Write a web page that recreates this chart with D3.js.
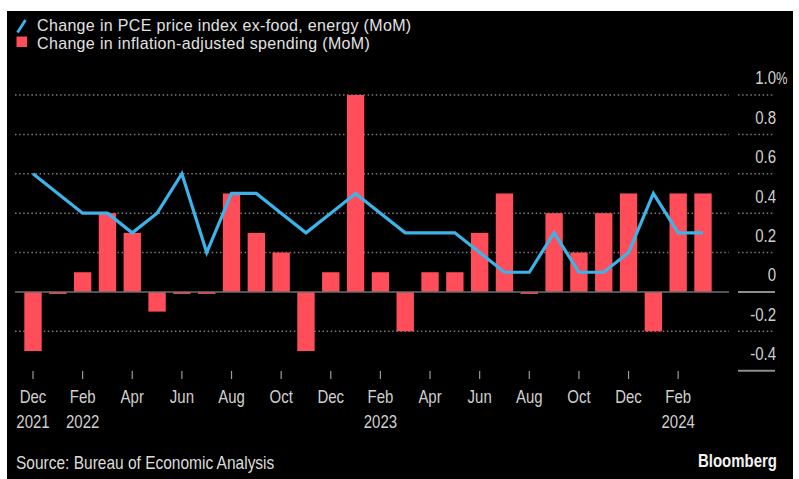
<!DOCTYPE html>
<html>
<head>
<meta charset="utf-8">
<script src="https://cdn.jsdelivr.net/npm/d3@7"></script>
<style>
body { margin: 0; background: #fff; }
svg { display: block; }
</style>
</head>
<body>
<div id="chart"></div>
<script>
// data
const months = ['2021-12','2022-01','2022-02','2022-03','2022-04','2022-05','2022-06','2022-07','2022-08','2022-09','2022-10','2022-11',
  '2022-12','2023-01','2023-02','2023-03','2023-04','2023-05','2023-06','2023-07','2023-08','2023-09','2023-10','2023-11',
  '2023-12','2024-01','2024-02','2024-03']
const spending = [-0.3,-0.01,0.1,0.4,0.3,-0.1,-0.01,-0.01,0.5,0.3,0.2,-0.3,0.1,1.0,0.1,-0.2,0.1,0.1,0.3,0.5,-0.01,0.4,0.2,0.4,0.5,-0.2,0.5,0.5]
const pce = [0.6,0.5,0.4,0.4,0.3,0.4,0.6,0.2,0.5,0.5,0.4,0.3,0.4,0.5,0.4,0.3,0.3,0.3,0.2,0.1,0.1,0.3,0.1,0.1,0.2,0.5,0.3,0.3]
const yTicks = [-0.4,-0.2,0,0.2,0.4,0.6,0.8,1.0]
const monthNames = ['Jan','Feb','Mar','Apr','May','Jun','Jul','Aug','Sep','Oct','Nov','Dec']
const legendItems = ['Change in PCE price index ex-food, energy (MoM)', 'Change in inflation-adjusted spending (MoM)']

const W = 799, H = 479
const RED = '#ff4d5a', BLUE = '#3cb4ea'
const FONT = '"Liberation Sans", Arial, sans-serif'
const STRETCH = 1.2 // reference text is a bit tall

let svg = d3.select('#chart').append('svg')
  .attr('width', W)
  .attr('height', H)

// black panel
svg.append('rect')
  .attr('x', 7).attr('y', 11)
  .attr('width', 786).attr('height', H - 11)
  .attr('fill', '#000')

// helper for stretched text
let label = (g, x, cy, txt, size, anchor, color, weight, stretch) => {
  let s = stretch || STRETCH
  return g.append('text')
    .attr('transform', `translate(${x},${cy + size * 0.716 * s / 2}) scale(1,${s})`)
    .attr('text-anchor', anchor || 'start')
    .attr('fill', color || '#d4d4d4')
    .attr('font-family', FONT)
    .attr('font-size', size)
    .attr('font-weight', weight || 'normal')
    .text(txt)
}

// scales
let x = d3.scaleBand()
  .domain(months)
  .range([20.6, 715.4])
  .paddingInner(0.3)
  .paddingOuter(0.15)
let y = d3.scaleLinear()
  .domain([-0.4, 1.0])
  .range([370.7, 95])
let xc = d => x(d) + x.bandwidth() / 2

// gridlines in plot
let grid = svg.append('g')
grid.selectAll('line')
  .data(yTicks.filter(t => t !== -0.4 && t !== 0))
  .join('line')
  .attr('x1', 15).attr('x2', 729)
  .attr('y1', d => y(d)).attr('y2', d => y(d))
  .attr('stroke', '#7a7a7a')
  .attr('stroke-width', 1.5)
  .attr('stroke-dasharray', '1.5,2.6')

// short lines under the right labels
svg.append('g').selectAll('line')
  .data(yTicks)
  .join('line')
  .attr('x1', 738).attr('x2', 775)
  .attr('y1', d => y(d)).attr('y2', d => y(d))
  .attr('stroke', d => (d === 0 || d === -0.4) ? '#8c8c8c' : '#7a7a7a')
  .attr('stroke-width', d => (d === 0 || d === -0.4) ? 2 : 1.5)
  .attr('stroke-dasharray', d => (d === 0 || d === -0.4) ? null : '1.5,2.6')

// y labels
let yLab = svg.append('g')
yTicks.forEach(t => {
  let txt = t === 0 ? '0' : d3.format('.1f')(t).replace('−', '-')
  label(yLab, 776, y(t) - 17, txt, 15, 'end', '#d0d0d0')
  if (t === 1.0) label(yLab, 776, y(t) - 17, '%', 13, 'start', '#d0d0d0')
})

// bars
svg.append('g').selectAll('rect')
  .data(months)
  .join('rect')
  .attr('x', d => x(d))
  .attr('width', x.bandwidth())
  .attr('y', (d, i) => y(Math.max(0, spending[i])))
  .attr('height', (d, i) => Math.abs(y(spending[i]) - y(0)))
  .attr('fill', RED)

// zero line
svg.append('line')
  .attr('x1', 15).attr('x2', 729)
  .attr('y1', y(0)).attr('y2', y(0))
  .attr('stroke', '#6e6e6e')
  .attr('stroke-width', 1.5)

// pce line
let line = d3.line()
  .x((d, i) => xc(months[i]))
  .y(d => y(d))
svg.append('path')
  .datum(pce)
  .attr('d', line)
  .attr('fill', 'none')
  .attr('stroke', BLUE)
  .attr('stroke-width', 3.2)
  .attr('stroke-linejoin', 'miter')

// x axis ticks every other month
let tickMonths = months.filter((d, i) => i % 2 === 0 && i < 27)
let xAxis = d3.axisBottom(x)
  .tickValues(tickMonths)
  .tickSize(8)
  .tickFormat('')
let gX = svg.append('g')
  .attr('transform', 'translate(0,371)')
  .call(xAxis)
gX.select('.domain').remove()
gX.selectAll('.tick line').attr('stroke', '#9a9a9a').attr('stroke-width', 1.2)

let xLab = svg.append('g')
tickMonths.forEach(m => {
  let [yr, mo] = m.split('-').map(Number)
  label(xLab, xc(m), 397, monthNames[mo - 1], 15, 'middle', '#d0d0d0')
  if (m === '2021-12' || mo === 2) label(xLab, xc(m), 421.5, yr, 15, 'middle', '#d0d0d0')
})

// legend
let leg = svg.append('g')
leg.append('line')
  .attr('x1', 17.5).attr('y1', 32.5)
  .attr('x2', 25.5).attr('y2', 20)
  .attr('stroke', BLUE).attr('stroke-width', 2.8)
leg.append('rect')
  .attr('x', 16.5).attr('y', 36.5)
  .attr('width', 10.5).attr('height', 10.5)
  .attr('fill', RED)
label(leg, 37, 25, legendItems[0], 16, 'start', '#e2e2e2', 'normal', 1.05).attr('letter-spacing', 0.35)
label(leg, 37, 43, legendItems[1], 16, 'start', '#e2e2e2', 'normal', 1.05).attr('letter-spacing', 0.35)

// footer
label(svg, 16, 462, 'Source: Bureau of Economic Analysis', 15.5, 'start', '#dcdcdc')
label(svg, 777, 461, 'Bloomberg', 15, 'end', '#f2f2f2', 'bold')
</script>
</body>
</html>
